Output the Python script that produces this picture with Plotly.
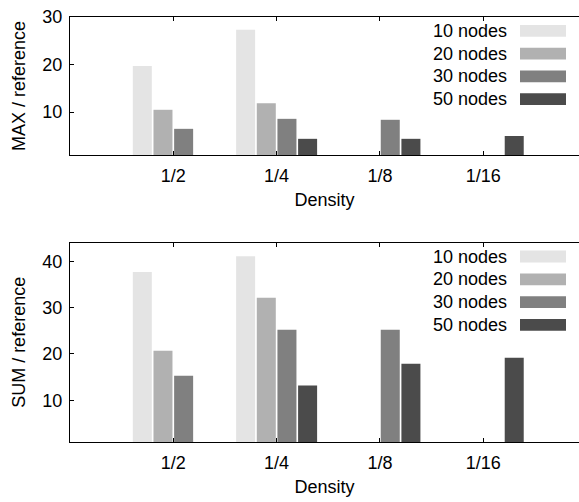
import plotly.graph_objects as go

# ---- data ----
densities = ["1/2", "1/4", "1/8", "1/16"]
series_names = ["10 nodes", "20 nodes", "30 nodes", "50 nodes"]
colors = ["#e4e4e4", "#b1b1b1", "#808080", "#4b4b4b"]

max_10 = [19.7, 27.3, None, None]
max_20 = [10.5, 11.9, None, None]
max_30 = [6.5, 8.6, 8.4, None]
max_50 = [None, 4.4, 4.4, 5.0]

sum_10 = [37.7, 41.1, None, None]
sum_20 = [20.7, 32.1, None, None]
sum_30 = [15.3, 25.2, 25.2, None]
sum_50 = [None, 13.2, 17.9, 19.2]

max_ticks = [10, 20, 30]
sum_ticks = [10, 20, 30, 40]

# ---- layout geometry (pixels) ----
W, H = 579, 502
ML, MR, MT, MB = 70, 0, 17, 60
PW = W - ML - MR
PH = H - MT - MB
top_panel = (17, 155)      # pixel top, bottom
bot_panel = (242.7, 442)

def py2paper(py):
    return (H - MB - py) / PH

def px2paper(px):
    return (px - ML) / PW

FONT = "Liberation Sans, Arial, Helvetica, sans-serif"
FS = 18

fig = go.Figure()

max_series = [max_10, max_20, max_30, max_50]
sum_series = [sum_10, sum_20, sum_30, sum_50]

for name, col, vals in zip(series_names, colors, max_series):
    fig.add_trace(go.Bar(x=densities, y=vals, name=name, marker_color=col,
                         marker_line_width=0, xaxis="x", yaxis="y",
                         showlegend=False))
for name, col, vals in zip(series_names, colors, sum_series):
    fig.add_trace(go.Bar(x=densities, y=vals, name=name, marker_color=col,
                         marker_line_width=0, xaxis="x2", yaxis="y2",
                         showlegend=False))

xcommon = dict(type="category", categoryorder="array", categoryarray=densities,
               range=[-1, 3.927], showline=True, linecolor="#000", linewidth=1,
               mirror="ticks", ticks="inside", ticklen=4, tickcolor="#000",
               showgrid=False, zeroline=False, ticklabelstandoff=4,
               tickfont=dict(family=FONT, size=FS, color="#000"),
               title=dict(text="Density", font=dict(family=FONT, size=FS, color="#000"),
                          standoff=8))
ycommon = dict(showline=True, linecolor="#000", linewidth=1, mirror=False,
               ticks="inside", ticklen=4, tickcolor="#000", showgrid=False,
               zeroline=False, ticklabelstandoff=3,
               tickfont=dict(family=FONT, size=FS, color="#000"))

fig.update_layout(
    width=W, height=H,
    margin=dict(l=ML, r=MR, t=MT, b=MB),
    paper_bgcolor="white", plot_bgcolor="white",
    barmode="group", bargap=0.2, bargroupgap=0.08,
    showlegend=False,
    xaxis=dict(**xcommon, anchor="y"),
    yaxis=dict(**ycommon, domain=[py2paper(top_panel[1]), py2paper(top_panel[0])],
               range=[1, 30], tickvals=max_ticks, anchor="x",
               title=dict(text="MAX / reference", font=dict(family=FONT, size=FS, color="#000"),
                          standoff=12)),
    xaxis2=dict(**xcommon, anchor="y2"),
    yaxis2=dict(**ycommon, domain=[py2paper(bot_panel[1]), py2paper(bot_panel[0])],
                range=[1, 44], tickvals=sum_ticks, anchor="x2",
                title=dict(text="SUM / reference", font=dict(family=FONT, size=FS, color="#000"),
                           standoff=12)),
)

# ---- manual legends (text left, swatch right) ----
row_step = 22.8
for panel_top in (top_panel[0], bot_panel[0]):
    for i, (name, col) in enumerate(zip(series_names, colors)):
        cy = panel_top + 13.8 + i * row_step
        fig.add_annotation(x=px2paper(509), y=py2paper(cy), xref="paper", yref="paper",
                           text=name, showarrow=False, xanchor="right", yanchor="middle",
                           font=dict(family=FONT, size=FS, color="#000"))
        fig.add_shape(type="rect", xref="paper", yref="paper",
                      x0=px2paper(520), x1=px2paper(566),
                      y0=py2paper(cy - 5.9), y1=py2paper(cy + 5.9),
                      fillcolor=col, line_width=0)

fig.write_html("out.html")
